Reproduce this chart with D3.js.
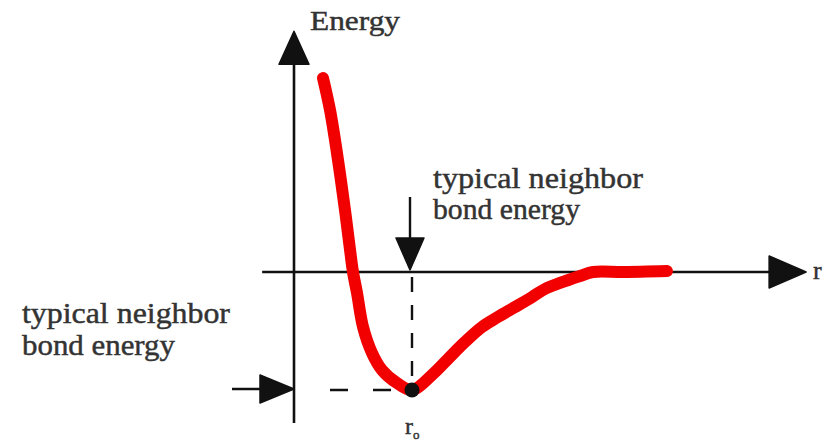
<!DOCTYPE html>
<html>
<head>
<meta charset="utf-8">
<script src="https://cdn.jsdelivr.net/npm/d3@7/dist/d3.min.js"></script>
<style>
  html, body { margin: 0; padding: 0; background: #fff; }
  svg { display: block; }
  text { font-family: "Liberation Serif", "DejaVu Serif", serif; fill: #333; stroke: #333; stroke-width: 0.45px; }
</style>
</head>
<body>
<svg id="chart" width="825" height="441"></svg>
<script>
// Interatomic separation r (in units of the equilibrium spacing r0)
const rValues = [0.246, 0.305, 0.373, 0.432, 0.475, 0.500, 0.534, 0.585, 0.661,
                 0.746, 0.873, 1.000, 1.169, 1.305, 1.449, 1.593, 1.729, 1.873,
                 2.017, 2.127, 2.254, 2.424, 2.534, 2.788, 3.161];
// Potential energy (in units of the bond energy depth)
const energyValues = [1.644, 1.373, 0.949, 0.525, 0.186, 0.000, -0.178, -0.466, -0.686,
                      -0.831, -0.941, -1.000, -0.873, -0.737, -0.593, -0.466, -0.381, -0.297,
                      -0.212, -0.144, -0.093, -0.034, 0.000, 0.000, 0.008];
// Equilibrium point
const equilibrium = { r: 1.0, energy: -1.0 };
// Labels
const axisLabels = { y: "Energy", x: "r" };
const bondLabel = ["typical neighbor", "bond energy"];
const r0Label = { main: "r", sub: "o" };

const svg = d3.select("#chart");

// Scales: origin at the axis crossing, one unit = distance to r0 / bond depth
const x = d3.scaleLinear().domain([0, 1]).range([294, 412]);
const y = d3.scaleLinear().domain([0, -1]).range([272, 390]);

const ink = "#111";

// Filled arrowhead pointing in a direction, tip at (tx, ty)
function arrowHead(tx, ty, dir, len, half) {
  let pts;
  if (dir === "up")    pts = [[tx, ty], [tx - half, ty + len], [tx + half, ty + len]];
  if (dir === "down")  pts = [[tx, ty], [tx - half, ty - len], [tx + half, ty - len]];
  if (dir === "right") pts = [[tx, ty], [tx - len, ty - half], [tx - len, ty + half]];
  svg.append("path")
    .attr("d", d3.line()(pts) + "Z")
    .attr("fill", ink)
    .attr("stroke", ink)
    .attr("stroke-width", 1.5)
    .attr("stroke-linejoin", "round");
}

// Vertical (energy) axis
const yAxisTop = y(2.04), yAxisBottom = y(-1.28);
svg.append("line")
  .attr("x1", x(0)).attr("x2", x(0))
  .attr("y1", yAxisBottom).attr("y2", yAxisTop + 20)
  .attr("stroke", ink).attr("stroke-width", 2.6);
arrowHead(x(0), yAxisTop, "up", 33, 15);

// Horizontal (r) axis
const xAxisLeft = x(-0.27), xAxisRight = x(4.34);
svg.append("line")
  .attr("x1", xAxisLeft).attr("x2", xAxisRight - 20)
  .attr("y1", y(0)).attr("y2", y(0))
  .attr("stroke", ink).attr("stroke-width", 2.4);
arrowHead(xAxisRight, y(0), "right", 37, 16);

// Dashed guides to the equilibrium point
svg.append("line")
  .attr("x1", x(equilibrium.r)).attr("x2", x(equilibrium.r))
  .attr("y1", y(0)).attr("y2", y(equilibrium.energy))
  .attr("stroke", ink).attr("stroke-width", 2.4)
  .attr("stroke-dasharray", "15,13")
  .attr("stroke-dashoffset", -5);
svg.append("line")
  .attr("x1", x(0)).attr("x2", x(equilibrium.r))
  .attr("y1", y(equilibrium.energy)).attr("y2", y(equilibrium.energy))
  .attr("stroke", ink).attr("stroke-width", 2.4)
  .attr("stroke-dasharray", "0,36,18,25,18,40");

// Potential energy curve
const curve = d3.line()
  .x((d, i) => x(rValues[i]))
  .y((d, i) => y(energyValues[i]))
  .curve(d3.curveCatmullRom.alpha(0.5));
svg.append("path")
  .attr("d", curve(rValues))
  .attr("fill", "none")
  .attr("stroke", "#f20000")
  .attr("stroke-width", 12)
  .attr("stroke-linecap", "round")
  .attr("stroke-linejoin", "round");

// Equilibrium dot
svg.append("circle")
  .attr("cx", x(equilibrium.r)).attr("cy", y(equilibrium.energy))
  .attr("r", 7.5).attr("fill", ink);

// Arrow down onto the axis above r0
svg.append("line")
  .attr("x1", x(equilibrium.r) - 2).attr("x2", x(equilibrium.r) - 2)
  .attr("y1", 197).attr("y2", 245)
  .attr("stroke", ink).attr("stroke-width", 2.4);
arrowHead(x(equilibrium.r) - 2, y(0) - 2, "down", 32, 14);

// Arrow pointing at the energy axis at the bond-energy level
svg.append("line")
  .attr("x1", 232).attr("x2", 270)
  .attr("y1", y(equilibrium.energy) - 1).attr("y2", y(equilibrium.energy) - 1)
  .attr("stroke", ink).attr("stroke-width", 2.6);
arrowHead(x(0), y(equilibrium.energy) - 1, "right", 34, 14);

// Text labels
function label(str, x0, base, width, size) {
  svg.append("text")
    .attr("x", x0).attr("y", base)
    .attr("font-size", size)
    .attr("textLength", width)
    .attr("lengthAdjust", "spacingAndGlyphs")
    .text(str);
}
label(axisLabels.y, 310, 30, 90, 27);
svg.append("text").attr("x", 813).attr("y", 279).attr("font-size", 26).text(axisLabels.x);

label(bondLabel[0], 433, 188, 210, 29);
label(bondLabel[1], 433, 219, 147, 29);
label(bondLabel[0], 22, 323, 208, 29);
label(bondLabel[1], 22, 355, 153, 29);

const rl = svg.append("text").attr("x", 405).attr("y", 434).attr("font-size", 24);
rl.append("tspan").text(r0Label.main);
rl.append("tspan").attr("font-size", 13).attr("dy", 5).text(r0Label.sub);
</script>
</body>
</html>
